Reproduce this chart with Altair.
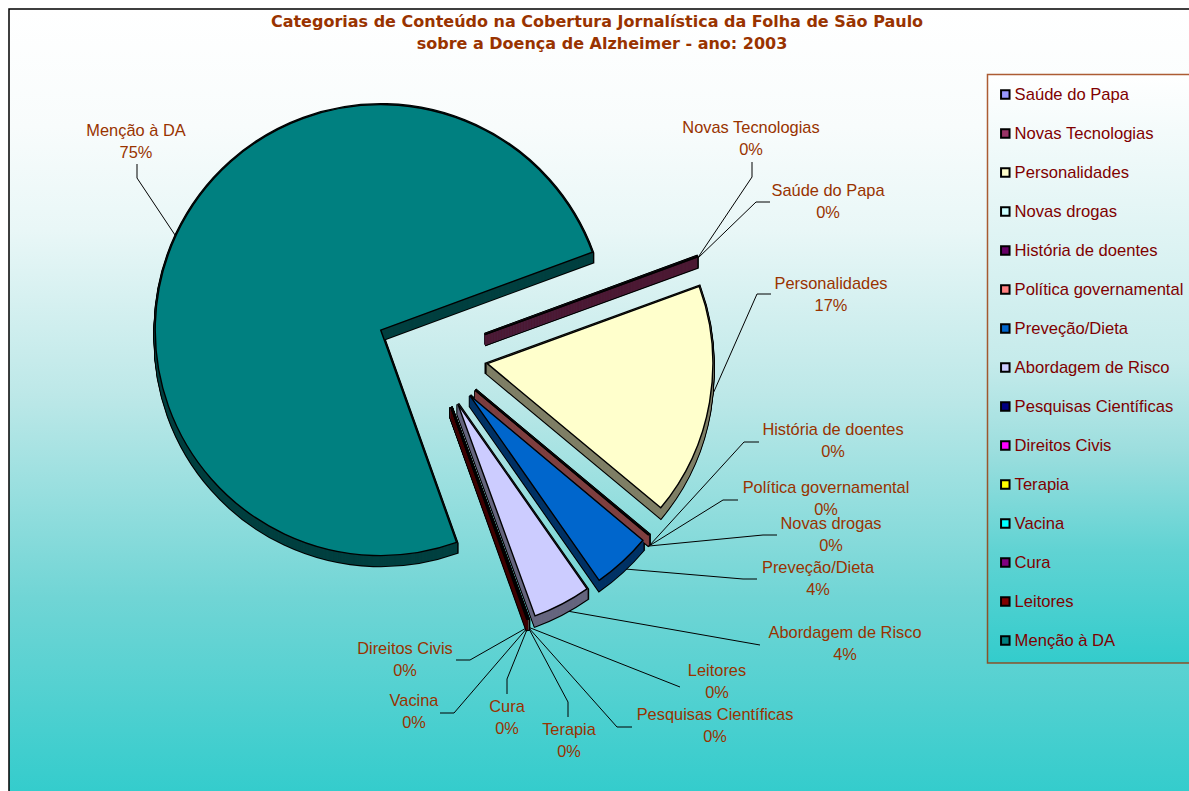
import math
import altair as alt
import pandas as pd

# Slice shares in percent, clockwise in legend order
categories = ["Saúde do Papa", "Novas Tecnologias", "Personalidades", "Novas drogas",
              "História de doentes", "Política governamental", "Preveção/Dieta",
              "Abordagem de Risco", "Pesquisas Científicas", "Direitos Civis", "Terapia",
              "Vacina", "Cura", "Leitores", "Menção à DA"]
shares = [0.02, 0.03, 16.6, 0.01, 0.01, 0.03, 4.2, 4.15, 0.01, 0.01, 0.01, 0.01, 0.01, 0.05, 74.85]
palette = ["#9999FF", "#993366", "#FFFFCC", "#CCFFFF", "#660066", "#FF8080", "#0066CC",
           "#CCCCFF", "#000080", "#FF00FF", "#FFFF00", "#00FFFF", "#800080", "#800000", "#008080"]

W, H = 1189, 791
RED_TEXT, BROWN = "#800000", "#993300"
FONT = "Liberation Sans"

# Pie geometry
CX, CY, RADIUS, EXPLODE, DEPTH = 431.8, 354.0, 225.5, 56.4, 10
START = math.radians(69.8)


def shade(hex_colour):
    r, g, b = (int(hex_colour[i:i + 2], 16) // 2 for i in (1, 3, 5))
    return f"#{r:02x}{g:02x}{b:02x}"


slices = pd.DataFrame({
    "cat": categories,
    "value": shares,
    "side": [shade(c) for c in palette],
    "order": range(len(categories)),
})
# One copy of every slice per pixel of extrusion gives the solid side walls
extruded = slices.merge(pd.DataFrame({"dy": range(DEPTH, -1, -1)}), how="cross")

theta_scale = alt.Scale(domain=[0, 100], range=[START, START + 2 * math.pi])
colour_scale = alt.Scale(domain=categories, range=palette)

pie = (
    alt.Chart(extruded)
    .transform_stack(stack="value", as_=["v0", "v1"], groupby=["dy"],
                     sort=[alt.SortField("order", order="ascending")])
    .transform_calculate(mid=f"{START} + (datum.v0 + datum.v1) / 200 * 2 * PI")
    .transform_calculate(
        px=f"{CX} + {EXPLODE} * sin(datum.mid)",
        py=f"{CY} - {EXPLODE} * cos(datum.mid) + datum.dy",
    )
)
arc_enc = dict(
    x=alt.X("px:Q", scale=None),
    y=alt.Y("py:Q", scale=None),
    theta=alt.Theta("v0:Q", scale=theta_scale),
    theta2=alt.Theta2("v1:Q"),
)

outline = pie.mark_arc(outerRadius=RADIUS, stroke="black", strokeWidth=3.4, fill="black").encode(**arc_enc)
walls = pie.mark_arc(outerRadius=RADIUS, strokeWidth=1.2).encode(
    fill=alt.Fill("side:N", scale=None), stroke=alt.Stroke("side:N", scale=None), **arc_enc
)
tops = pie.transform_filter("datum.dy == 0").mark_arc(
    outerRadius=RADIUS, stroke="black", strokeWidth=1.4
).encode(
    fill=alt.Fill(
        "cat:N", scale=colour_scale, sort=categories,
        legend=alt.Legend(
            orient="none", legendX=997, legendY=85, title=None,
            symbolType="square", symbolSize=72, symbolStrokeColor="black", symbolStrokeWidth=2,
            symbolOpacity=1, labelFont=FONT, labelFontSize=16.6, labelColor=RED_TEXT,
            labelOffset=1, labelLimit=190, clipHeight=19, rowPadding=20,
        ),
    ),
    **arc_enc,
)

# Panel backgrounds
one_row = pd.DataFrame({"k": [0]})
panel_gradient = alt.Gradient(
    gradient="linear", x1=0, x2=0, y1=0, y2=1,
    stops=[alt.GradientStop(offset=0.0, color="#ffffff"),
           alt.GradientStop(offset=0.15, color="#f8fcfc"),
           alt.GradientStop(offset=0.28, color="#e9f7f7"),
           alt.GradientStop(offset=0.49, color="#bde8e8"),
           alt.GradientStop(offset=0.75, color="#70d5d5"),
           alt.GradientStop(offset=1.0, color="#33cccc")],
)
panel = alt.Chart(one_row).mark_rect(fill=panel_gradient, stroke="black", strokeWidth=1.5).encode(
    x=alt.value(9), x2=alt.value(W + 20), y=alt.value(9), y2=alt.value(H + 4)
)
legend_gradient = alt.Gradient(
    gradient="linear", x1=0, x2=0, y1=0, y2=1,
    stops=[alt.GradientStop(offset=0.0, color="#ffffff"),
           alt.GradientStop(offset=0.485, color="#c6ebeb"),
           alt.GradientStop(offset=0.64, color="#9cdede"),
           alt.GradientStop(offset=0.81, color="#60d3d3"),
           alt.GradientStop(offset=1.0, color="#33cccc")],
)
legend_box = alt.Chart(one_row).mark_rect(
    fill=legend_gradient, stroke=BROWN, strokeWidth=1.5, strokeOpacity=0.8
).encode(x=alt.value(987.5), x2=alt.value(W + 20), y=alt.value(74.5), y2=alt.value(663))

# Hand-placed data labels: name centre and first-line height
label_spots = {
    "Menção à DA": (136, 131), "Novas Tecnologias": (751, 128), "Saúde do Papa": (828, 191),
    "Personalidades": (831, 284), "História de doentes": (833, 430),
    "Política governamental": (826, 488), "Novas drogas": (831, 524), "Preveção/Dieta": (818, 568),
    "Abordagem de Risco": (845, 633), "Leitores": (717, 671), "Pesquisas Científicas": (715, 715),
    "Terapia": (569, 730), "Cura": (507, 707), "Vacina": (414, 701), "Direitos Civis": (405, 649),
}
label_rows = pd.DataFrame([
    {"name": c, "pct": f"{round(v)}%", "lx": label_spots[c][0], "ly": label_spots[c][1]}
    for c, v in zip(categories, shares)
])
label_base = alt.Chart(label_rows).mark_text(
    font=FONT, fontSize=16.4, color=BROWN, align="center", baseline="middle"
)
name_text = label_base.encode(x=alt.X("lx:Q", scale=None), y=alt.Y("ly:Q", scale=None), text="name:N")
pct_text = label_base.transform_calculate(ly2="datum.ly + 21.5").encode(
    x=alt.X("lx:Q", scale=None), y=alt.Y("ly2:Q", scale=None), text="pct:N"
)

# Leader lines as polylines from slice edge to label
leader_paths = {
    "Menção à DA": [(175, 235), (137, 178), (137, 164)],
    "Novas Tecnologias": [(697, 259), (752, 177), (752, 162)],
    "Saúde do Papa": [(697, 259), (756, 202), (770, 202)],
    "Personalidades": [(663, 507), (757, 294), (771, 294)],
    "História de doentes": [(649, 546), (744, 442), (759, 442)],
    "Política governamental": [(649, 546), (723, 500), (738, 500)],
    "Novas drogas": [(649, 546), (763, 535), (777, 535)],
    "Preveção/Dieta": [(625, 569), (743, 579), (757, 579)],
    "Abordagem de Risco": [(567, 611), (760, 645)],
    "Leitores": [(528, 627), (680, 687)],
    "Pesquisas Científicas": [(528, 627), (617, 727), (632, 727)],
    "Terapia": [(528, 627), (568, 702), (568, 717)],
    "Cura": [(528, 627), (507, 679), (507, 694)],
    "Vacina": [(528, 627), (454, 713), (440, 713)],
    "Direitos Civis": [(528, 627), (470, 660), (456, 660)],
}
leader_rows = pd.DataFrame([
    {"name": name, "step": i, "lx": p[0], "ly": p[1]}
    for name, path in leader_paths.items() for i, p in enumerate(path)
])
leaders = alt.Chart(leader_rows).mark_line(color="black", strokeWidth=1, interpolate="linear").encode(
    x=alt.X("lx:Q", scale=None), y=alt.Y("ly:Q", scale=None),
    detail="name:N", order="step:Q",
)

title_rows = pd.DataFrame({
    "line": ["Categorias de Conteúdo na Cobertura Jornalística da Folha de São Paulo",
             "sobre a Doença de Alzheimer - ano: 2003"],
    "tx": [597, 602],
    "ty": [22, 44],
})
title = alt.Chart(title_rows).mark_text(
    font="DejaVu Sans", fontWeight="bold", fontSize=16, color=BROWN, align="center", baseline="middle"
).encode(x=alt.X("tx:Q", scale=None), y=alt.Y("ty:Q", scale=None), text="line:N")

chart = alt.layer(
    panel, legend_box, leaders, outline, walls, tops, name_text, pct_text, title
).properties(
    width=W, height=H, padding=0, background="white",
    autosize=alt.AutoSizeParams(type="none"),
).configure_view(strokeWidth=0)

chart.save("out.html", embed_options={"renderer": "svg", "actions": False})
